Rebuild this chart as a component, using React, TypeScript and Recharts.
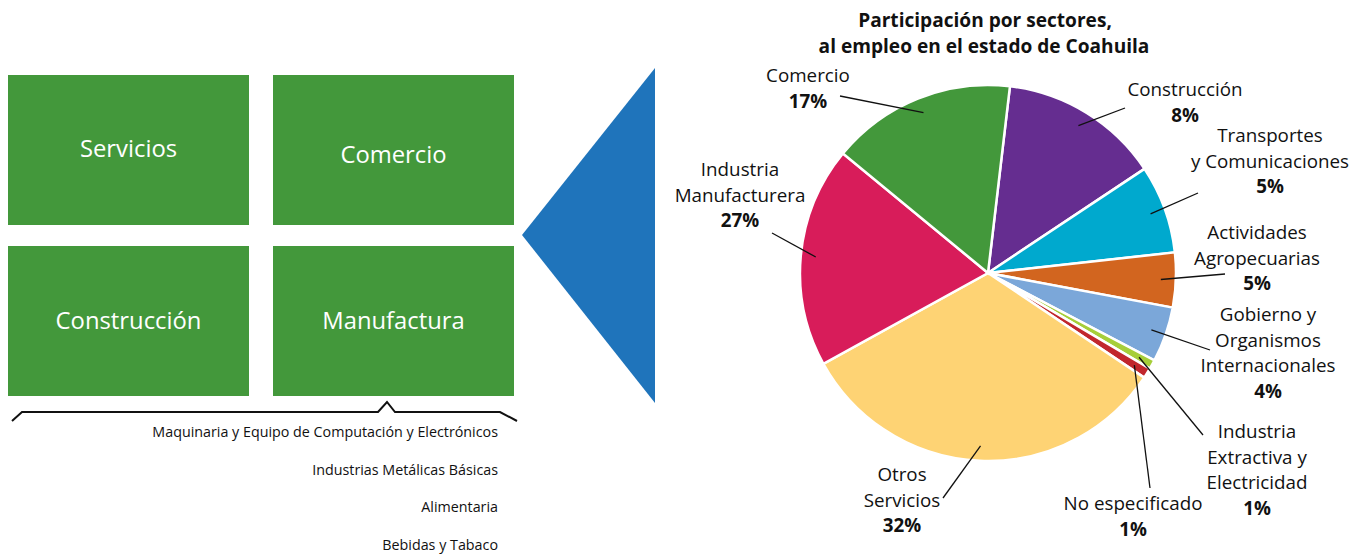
import React from 'react';
import { PieChart, Pie, Cell } from 'recharts';

// sector shares as drawn (slice sizes), clockwise from the top
const sectors = [
  'Construcción',
  'Transportes\ny Comunicaciones',
  'Actividades\nAgropecuarias',
  'Gobierno y\nOrganismos\nInternacionales',
  'Industria\nExtractiva y\nElectricidad',
  'No especificado',
  'Otros\nServicios',
  'Industria\nManufacturera',
  'Comercio',
];
const shares = [13.8, 7.6, 4.7, 4.75, 0.8, 0.9, 32.6, 19, 15.9];
const shareLabels = ['8%', '5%', '5%', '4%', '1%', '1%', '32%', '27%', '17%'];
const colors = ['#652d90', '#00a9ce', '#d2651f', '#7ba7d9', '#a6ce39', '#c1272d', '#fed374', '#d81c5a', '#43983b'];

const boxes = ['Servicios', 'Comercio', 'Construcción', 'Manufactura'];
const subsectors = [
  'Maquinaria y Equipo de Computación y Electrónicos',
  'Industrias Metálicas Básicas',
  'Alimentaria',
  'Bebidas y Tabaco',
];

const pieData = sectors.map((name, i) => ({ name, value: shares[i], label: shareLabels[i] }));

// where each label sits and where its leader line ends
const labelLayout = [
  { x: 1185, y: 89, lx: 1125, ly: 108 },
  { x: 1270, y: 135, lx: 1198, ly: 193 },
  { x: 1257, y: 232, lx: 1225, ly: 274 },
  { x: 1268, y: 314, lx: 1210, ly: 350 },
  { x: 1257, y: 431, lx: 1203, ly: 435 },
  { x: 1133, y: 503, lx: 1150, ly: 488 },
  { x: 902, y: 474, lx: 943, ly: 498 },
  { x: 740, y: 169, lx: 772, ly: 233 },
  { x: 808, y: 75, lx: 840, ly: 96 },
];

const FONT = '"Open Sans", "Noto Sans", sans-serif';
const RAD = Math.PI / 180;

const renderLabel = (props: any) => {
  const { cx, cy, midAngle, outerRadius, index, payload } = props;
  const pos = labelLayout[index];
  const r = outerRadius * 0.92;
  const sx = cx + r * Math.cos(-midAngle * RAD);
  const sy = cy + r * Math.sin(-midAngle * RAD);
  const lines: string[] = String(payload.name).split('\n');
  return (
    <g key={'lbl' + index}>
      <line x1={sx} y1={sy} x2={pos.lx} y2={pos.ly} stroke="#111" strokeWidth={1.3} />
      <text x={pos.x} y={pos.y} textAnchor="middle" fontFamily={FONT} fontSize={18.8} fill="#111">
        {lines.map((t, i) => (
          <tspan key={i} x={pos.x} y={pos.y + i * 25.7} dominantBaseline="central">{t}</tspan>
        ))}
        <tspan x={pos.x} y={pos.y + lines.length * 25.7} dominantBaseline="central" fontWeight="bold">
          {payload.label}
        </tspan>
      </text>
    </g>
  );
};

export default function App() {
  const boxPos = [
    { left: 8, top: 75, dy: -2 },
    { left: 273, top: 75, dy: 4 },
    { left: 8, top: 246, dy: -1 },
    { left: 273, top: 246, dy: -1 },
  ];
  return (
    <div style={{ position: 'absolute', left: 0, top: 0, width: 1349, height: 554, background: '#fff', overflow: 'hidden', fontFamily: FONT }}>
      {boxes.map((b, i) => (
        <div
          key={b}
          style={{
            position: 'absolute',
            left: boxPos[i].left,
            top: boxPos[i].top,
            width: 241,
            height: 150,
            background: '#43983b',
            color: '#fff',
            fontSize: 23.8,
            display: 'flex',
            alignItems: 'center',
            justifyContent: 'center',
          }}
        >
          <span style={{ position: 'relative', top: boxPos[i].dy }}>{b}</span>
        </div>
      ))}
      {subsectors.map((s, i) => (
        <div
          key={s}
          style={{
            position: 'absolute',
            right: 1349 - 498,
            top: 422 + i * 37.6,
            fontSize: 14.3,
            lineHeight: '20px',
            color: '#111',
            whiteSpace: 'nowrap',
          }}
        >
          {s}
        </div>
      ))}
      <PieChart
        width={1349}
        height={554}
        margin={{ top: 0, right: 0, bottom: 0, left: 0 }}
        style={{ position: 'absolute', left: 0, top: 0 }}
      >
        <polygon points="522,235 655,68 655,403" fill="#1f74bb" />
        <polyline
          points="12,421 22,412 378,412 387,402 395,412 500,412 517,421"
          fill="none"
          stroke="#111"
          strokeWidth={2}
        />
        <text x={985} y={20} textAnchor="middle" dominantBaseline="central" fontFamily={FONT} fontWeight="bold" fontSize={19.1} fill="#111">
          Participación por sectores,
        </text>
        <text x={984} y={46} textAnchor="middle" dominantBaseline="central" fontFamily={FONT} fontWeight="bold" fontSize={19.1} fill="#111">
          al empleo en el estado de Coahuila
        </text>
        <Pie
          data={pieData}
          dataKey="value"
          nameKey="name"
          cx={988}
          cy={273}
          outerRadius={188}
          startAngle={83.3}
          endAngle={-276.7}
          stroke="#fff"
          strokeWidth={2.5}
          label={renderLabel}
          labelLine={false}
          isAnimationActive={false}
        >
          {pieData.map((d, i) => (
            <Cell key={d.name} fill={colors[i]} />
          ))}
        </Pie>
      </PieChart>
    </div>
  );
}
